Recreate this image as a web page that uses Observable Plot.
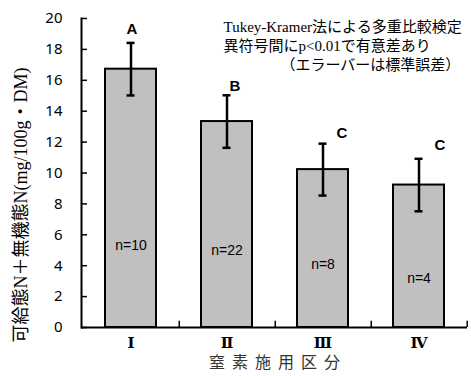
<!DOCTYPE html>
<html>
<head>
<meta charset="utf-8">
<script src="https://cdn.jsdelivr.net/npm/d3@7"></script>
<script src="https://cdn.jsdelivr.net/npm/@observablehq/plot@0.6"></script>
<style>
  html, body { margin: 0; padding: 0; background: #fff; }
</style>
</head>
<body>
<div id="chart"></div>
<script>
const categories = ["Ⅰ", "Ⅱ", "Ⅲ", "Ⅳ"];
const means = [16.72, 13.33, 10.22, 9.22];
const stdErrors = [1.70, 1.70, 1.68, 1.70];
const groupLetters = ["A", "B", "C", "C"];
const groupLetterY = [19.3, 15.6, 12.55, 11.8];
const nLabels = ["n=10", "n=22", "n=8", "n=4"];
const nLabelY = [5.3, 4.97, 4.07, 3.18];
const yTicks = [0, 2, 4, 6, 8, 10, 12, 14, 16, 18, 20];
const yLabel = "可給態N＋無機態N(mg/100g・DM)";
const xLabel = "窒素施用区分";
const noteLines = ["Tukey-Kramer法による多重比較検定", "異符号間にp<0.01で有意差あり", "（エラーバーは標準誤差）"];

// layout-only offsets (pixels) for the group letters
const letterDx = [1, 8, 19, 21];

const data = categories.map((c, i) => ({
  cat: c, mean: means[i], lo: means[i] - stdErrors[i], hi: means[i] + stdErrors[i],
  letter: groupLetters[i], letterY: groupLetterY[i], n: nLabels[i], nY: nLabelY[i]
}));

const W = 471, H = 376;
const mL = 81, mR = 4, mT = 18, mB = 49;
const step = (W - mL - mR) / categories.length;
const xSpacing = 7;

const serif = "'Liberation Serif', 'Noto Sans CJK JP', serif";
const sans = "'Liberation Sans', Arial, sans-serif";

const chart = Plot.plot({
  width: W,
  height: H,
  marginLeft: mL,
  marginRight: mR,
  marginTop: mT,
  marginBottom: mB,
  style: { background: "#fff", overflow: "visible" },
  x: { domain: categories, paddingInner: 0.47, paddingOuter: 0.235, axis: null },
  y: { domain: [0, 20], axis: null },
  marks: [
    Plot.barY(data, { x: "cat", y: "mean", fill: "#c0c0c0", stroke: "#000", strokeWidth: 2 }),
    Plot.ruleX(data, { x: "cat", y1: "lo", y2: "hi", stroke: "#000", strokeWidth: 2.5 }),
    Plot.tickY(data, { x: "cat", y: "hi", stroke: "#000", strokeWidth: 2.5, insetLeft: 21.5, insetRight: 21.5 }),
    Plot.tickY(data, { x: "cat", y: "lo", stroke: "#000", strokeWidth: 2.5, insetLeft: 21.5, insetRight: 21.5 }),
    // axes lines
    Plot.ruleY([0], { stroke: "#000", strokeWidth: 2 }),
    Plot.frame({ anchor: "left", stroke: "#000", strokeWidth: 2 }),
    // inward y ticks
    Plot.ruleY(yTicks, { stroke: "#000", strokeWidth: 1.5, insetRight: W - mL - mR - 6 }),
    // x ticks at band boundaries
    Plot.ruleX(categories, { x: d => d, dx: step / 2, y1: 0, y2: 0.4, stroke: "#000", strokeWidth: 1.5 }),
    // y tick labels
    Plot.axisY({ ticks: yTicks, tickSize: 0, tickPadding: 19, fontSize: 15, fontFamily: "'Noto Sans', sans-serif", label: null }),
    // x tick labels
    Plot.axisX({ tickSize: 0, tickPadding: 10, fontSize: 15, fontWeight: "bold", fontFamily: "'DejaVu Serif', serif", label: null }),
    // n labels
    Plot.text(data, { x: "cat", y: "nY", text: "n", fontSize: 14, fontFamily: sans, fill: "#000" }),
    // group letters
    ...data.map((d, i) => Plot.text([d], { x: "cat", y: "letterY", text: "letter", dx: letterDx[i], fontSize: 15, fontWeight: "bold", fontFamily: sans, fill: "#000" })),
    // x label
    Plot.text([xLabel], { frameAnchor: "bottom", dx: xSpacing / 2, dy: 40, text: d => d, fontSize: 16, fontFamily: serif, fill: "#333", textAnchor: "middle" }),
    // y label
    Plot.text([yLabel], { frameAnchor: "left", dx: -60, dy: 32, rotate: -90, text: d => d, textAnchor: "middle", fontSize: 18, fontFamily: serif, fill: "#000" }),
    // note
    Plot.text([noteLines[0]], { frameAnchor: "top-left", dx: 223 - mL, dy: 21 - mT, text: d => d, textAnchor: "start", fontSize: 15, fontFamily: serif, fill: "#000" }),
    Plot.text([noteLines[1]], { frameAnchor: "top-left", dx: 223 - mL, dy: 40 - mT, text: d => d, textAnchor: "start", fontSize: 15, fontFamily: serif, fill: "#000" }),
    Plot.text([noteLines[2]], { frameAnchor: "top-left", dx: 280 - mL, dy: 59 - mT, text: d => d, textAnchor: "start", fontSize: 15, fontFamily: serif, fill: "#000" })
  ]
});
d3.select(chart).selectAll("text").filter(function() { return this.textContent === xLabel; })
  .style("letter-spacing", xSpacing + "px");
document.getElementById("chart").appendChild(chart);
</script>
</body>
</html>
